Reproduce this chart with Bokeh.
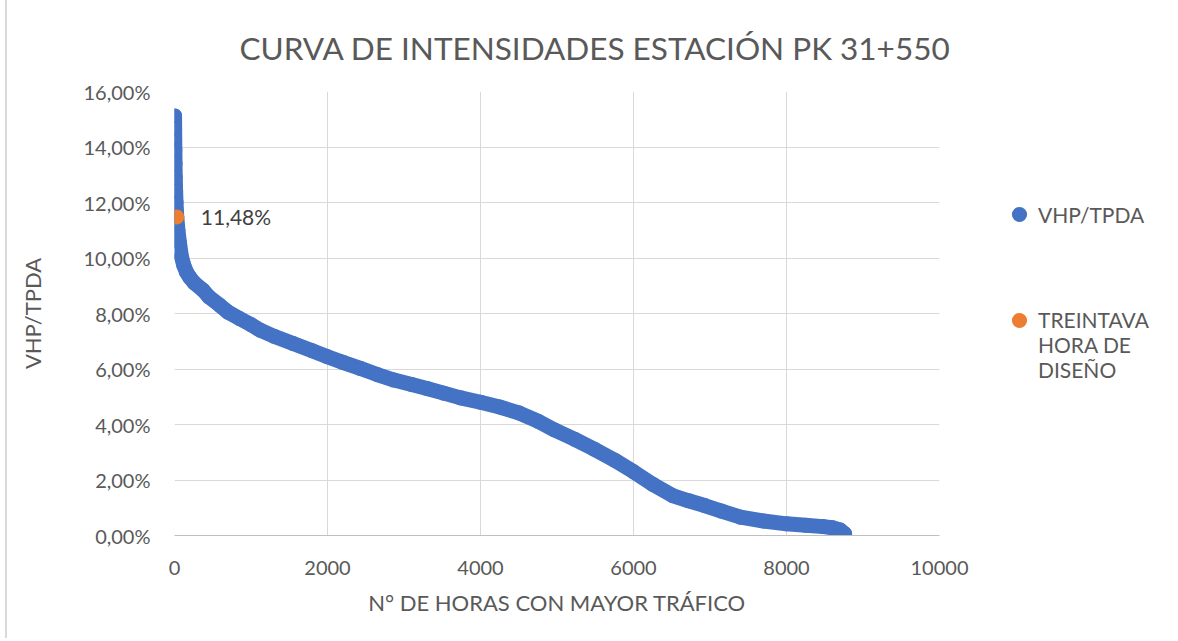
from bokeh.plotting import figure
from bokeh.models import Legend, LegendItem, FixedTicker, ColumnDataSource
from bokeh.core.properties import value
from bokeh.embed import file_html
from bokeh.resources import INLINE

# ---- data ----
hours = [1, 2, 3, 5, 7, 10, 15, 20, 30, 45, 65, 90, 120, 155, 200, 260, 370, 450,
         590, 700, 850, 1000, 1120, 1300, 1550, 1800, 2000, 2200, 2430, 2650, 2870,
         3100, 3300, 3520, 3740, 4000, 4250, 4500, 4750, 4970, 5230, 5480, 5750,
         6000, 6250, 6510, 6720, 6930, 7150, 7400, 7700, 8000, 8250, 8480, 8600,
         8700, 8760]
vhp_tpda = [15.12, 14.67, 14.25, 13.90, 13.40, 12.90, 12.40, 12.00, 11.48, 11.00,
            10.55, 10.05, 9.75, 9.50, 9.30, 9.10, 8.85, 8.60, 8.30, 8.05, 7.82,
            7.60, 7.40, 7.18, 6.92, 6.66, 6.44, 6.24, 6.02, 5.80, 5.60, 5.44, 5.30,
            5.13, 4.96, 4.80, 4.63, 4.42, 4.12, 3.80, 3.47, 3.12, 2.72, 2.30, 1.85,
            1.44, 1.25, 1.08, 0.88, 0.66, 0.52, 0.42, 0.37, 0.32, 0.28, 0.20, 0.06]
design_hour = [30]
design_value = [11.48]
design_label = ["11,48%"]

series_names = ["VHP/TPDA", "\n\nTREINTAVA\nHORA DE\nDISEÑO"]

x_ticks = [0, 2000, 4000, 6000, 8000, 10000]
y_ticks = [0, 2, 4, 6, 8, 10, 12, 14, 16]
y_tick_labels = ["0,00%", "2,00%", "4,00%", "6,00%", "8,00%", "10,00%",
                 "12,00%", "14,00%", "16,00%"]

BLUE = "#4472C4"
ORANGE = "#ED7D31"
GREY = "#595959"
FONT = "Lato"

p = figure(width=1168, height=638, output_backend="svg", toolbar_location=None,
           x_range=(0, 10000), y_range=(0, 16),
           frame_width=765, frame_height=444,
           min_border_left=167, min_border_right=236, min_border_top=91,
           min_border_bottom=103)
p.styles = {"margin-left": "5px", "margin-top": "-2px",
            "border-top": "2px solid #d9d9d9", "border-left": "2px solid #d9d9d9"}

p.title.text = "CURVA DE INTENSIDADES ESTACIÓN PK 31+550"
p.title.align = "left"
p.title.offset = 65
p.title.text_font = FONT
p.title.text_font_size = "31.5px"
p.title.text_font_style = "normal"
p.title.text_color = GREY
p.title.standoff = 50

p.outline_line_color = None
p.xgrid.grid_line_color = "#d9d9d9"
p.ygrid.grid_line_color = "#d9d9d9"

p.xaxis.ticker = FixedTicker(ticks=x_ticks)
p.yaxis.ticker = FixedTicker(ticks=y_ticks)
p.yaxis.major_label_overrides = {t: l for t, l in zip(y_ticks, y_tick_labels)}
for ax in (p.xaxis[0], p.yaxis[0]):
    ax.major_tick_line_color = None
    ax.minor_tick_line_color = None
    ax.major_label_text_font = FONT
    ax.major_label_text_font_size = "20px"
    ax.major_label_text_color = GREY
    ax.axis_label_text_font = FONT
    ax.axis_label_text_font_size = "22px"
    ax.axis_label_text_font_style = "normal"
    ax.axis_label_text_color = GREY
p.xaxis.axis_line_color = "#bfbfbf"
p.yaxis.axis_line_color = None
p.xaxis.major_label_standoff = 19
p.yaxis.major_label_standoff = 18
p.xaxis.axis_label = "N° DE HORAS CON MAYOR TRÁFICO"
p.yaxis.axis_label = "VHP/TPDA"
p.xaxis.axis_label_standoff = 11
p.yaxis.axis_label_standoff = 35

src = ColumnDataSource(dict(x=hours, y=vhp_tpda))
p.line("x", "y", source=src, line_color=BLUE, line_width=15,
       line_join="round", line_cap="round")
r_blue = p.scatter("x", "y", source=src, size=15, fill_color=BLUE, line_color=None)

dsrc = ColumnDataSource(dict(x=design_hour, y=design_value, t=design_label))
r_orange = p.scatter("x", "y", source=dsrc, size=15, fill_color=ORANGE, line_color=None)
p.text("x", "y", text="t", source=dsrc, x_offset=24, text_baseline="middle",
       text_font=value(FONT), text_font_size="21px", text_color="#404040")

legend = Legend(items=[LegendItem(label=series_names[0], renderers=[r_blue]),
                       LegendItem(label=series_names[1], renderers=[r_orange])],
                location=(61, 153), orientation="vertical",
                border_line_color=None, background_fill_alpha=0,
                padding=0, margin=0, spacing=24,
                glyph_width=38, glyph_height=38, label_standoff=-6,
                label_text_font=FONT, label_text_font_size="21px",
                label_text_color=GREY, label_height=20)
p.add_layout(legend, "right")

open("out.html", "w").write(file_html(p, INLINE))
